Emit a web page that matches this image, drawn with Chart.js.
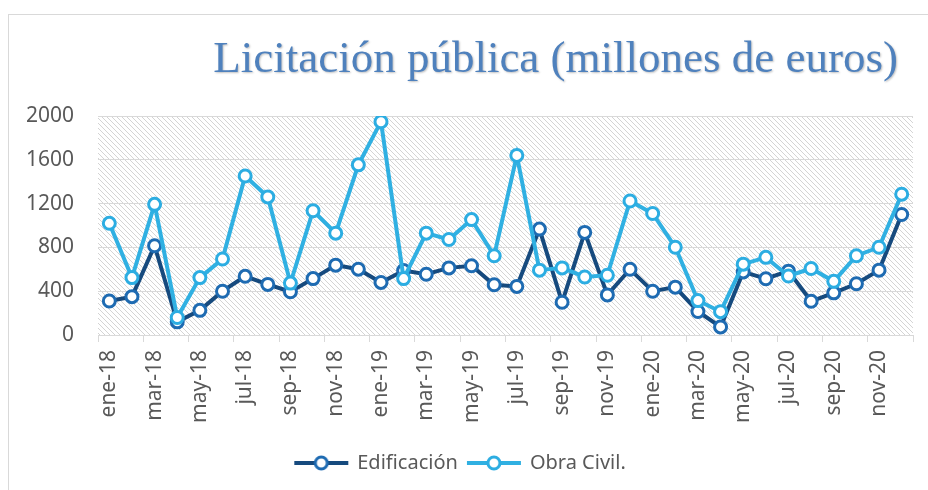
<!DOCTYPE html>
<html>
<head>
<meta charset="utf-8">
<script src="https://cdn.jsdelivr.net/npm/chart.js@4"></script>
<style>
  body { margin: 0; background: #ffffff; overflow: hidden; }
  #frame { position: absolute; left: 8px; top: 14px; width: 1000px; height: 1000px; border: 1px solid #d9d9d9; }
  #wrap { position: absolute; left: 0; top: 0; width: 928px; height: 490px; }
</style>
</head>
<body>
<div id="frame"></div>
<div id="wrap"><canvas id="myChart" width="928" height="490"></canvas></div>
<script>
const TITLE = "Licitación pública (millones de euros)";
const months = ["ene", "feb", "mar", "abr", "may", "jun", "jul", "ago", "sep", "oct", "nov", "dic"];
const years = ["18", "19", "20"];
const yTicks = [0, 400, 800, 1200, 1600, 2000];
const seriesNames = ["Edificación", "Obra Civil."];

// values, ene-18 .. dic-20
const edificacion = [310, 350, 815, 120, 225, 400, 536, 462, 395, 515, 638, 601,
                     480, 588, 555, 613, 632, 459, 444, 967, 299, 937, 366, 600,
                     400, 437, 215, 74, 576, 514, 583, 308, 385, 468, 592, 1100];
const obraCivil = [1020, 524, 1193, 160, 524, 694, 1452, 1261, 474, 1135, 930, 1554,
                   1948, 515, 930, 872, 1054, 724, 1640, 592, 613, 530, 546, 1224,
                   1110, 801, 314, 213, 647, 709, 539, 607, 490, 724, 801, 1286];

const DARK_LINE = "#164a7e";
const DARK_POINT = "#1e6bb2";
const LIGHT_LINE = "#30b0e2";
const LIGHT_POINT = "#2cade2";
const GRID_COLOR = "#d9d9d9";
const TEXT_COLOR = "#595959";
const FONT = "'Noto Sans', sans-serif";

let labels = [];
years.forEach(y => months.forEach(m => labels.push(m + "-" + y)));

//small canvas used as hatch pattern behind the plot
function makeHatch() {
    const c = document.createElement("canvas");
    c.width = 5; c.height = 5;
    const g = c.getContext("2d");
    g.strokeStyle = "rgba(0,0,0,0.17)";
    g.lineWidth = 1;
    g.beginPath();
    g.moveTo(-1, -1); g.lineTo(6, 6);
    g.moveTo(-1, 4); g.lineTo(1, 6);
    g.moveTo(4, -1); g.lineTo(6, 1);
    g.stroke();
    return c;
}

//legend icon: line with a hollow circle in the middle
function makeIcon(lineColor, pointColor) {
    const c = document.createElement("canvas");
    c.width = 56; c.height = 18;
    const g = c.getContext("2d");
    g.strokeStyle = lineColor;
    g.lineWidth = 4;
    g.beginPath();
    g.moveTo(1, 9); g.lineTo(55, 9);
    g.stroke();
    g.beginPath();
    g.arc(28, 9, 6, 0, Math.PI * 2);
    g.fillStyle = "#ffffff";
    g.fill();
    g.lineWidth = 3;
    g.strokeStyle = pointColor;
    g.stroke();
    return c;
}

const hatchBackground = {
    id: "hatchBackground",
    beforeDraw(chart) {
        const { ctx, chartArea: { left, top, width, height } } = chart;
        ctx.save();
        ctx.fillStyle = ctx.createPattern(makeHatch(), "repeat");
        ctx.fillRect(left, top, width, height);
        ctx.restore();
    }
};

const titlePlugin = {
    id: "titlePlugin",
    afterDraw(chart) {
        const ctx = chart.ctx;
        ctx.save();
        ctx.font = "45px 'Liberation Serif', serif";
        ctx.fillStyle = "#4f81bd";
        ctx.textAlign = "right";
        ctx.textBaseline = "alphabetic";
        ctx.shadowColor = "rgba(0,0,0,0.25)";
        ctx.shadowOffsetX = 1;
        ctx.shadowOffsetY = 1;
        ctx.shadowBlur = 2;
        ctx.fillText(TITLE, 898, 72);
        ctx.restore();
    }
};

const icons = [makeIcon(DARK_LINE, DARK_POINT), makeIcon(LIGHT_LINE, LIGHT_POINT)];

new Chart("myChart", {
    type: "line",
    data: {
        labels: labels,
        datasets: [{
            label: seriesNames[0],
            data: edificacion,
            borderColor: DARK_LINE,
            borderWidth: 4,
            pointRadius: 6,
            pointBorderWidth: 3,
            pointBorderColor: DARK_POINT,
            pointBackgroundColor: "#ffffff",
            tension: 0,
            order: 1
        }, {
            label: seriesNames[1],
            data: obraCivil,
            borderColor: LIGHT_LINE,
            borderWidth: 4,
            pointRadius: 6,
            pointBorderWidth: 3,
            pointBorderColor: LIGHT_POINT,
            pointBackgroundColor: "#ffffff",
            tension: 0,
            order: 0
        }]
    },
    options: {
        responsive: false,
        animation: false,
        layout: { padding: { left: 8, right: 15, top: 116, bottom: 7 } },
        scales: {
            x: {
                offset: true,
                afterFit(scale) {
                    scale.height = 108;
                    scale.paddingLeft = 0;
                    scale.paddingRight = 0;
                },
                grid: {
                    offset: true,
                    drawOnChartArea: false,
                    drawTicks: true,
                    tickLength: 7,
                    color: ctx => (ctx.index === undefined || ctx.index % 2 === 0) ? GRID_COLOR : "rgba(0,0,0,0)"
                },
                border: { display: true, color: GRID_COLOR, width: 1 },
                ticks: {
                    autoSkip: false,
                    maxRotation: 90,
                    minRotation: 90,
                    padding: 8,
                    color: TEXT_COLOR,
                    font: { family: FONT, size: 21 },
                    callback: function (value, index) {
                        return index % 2 === 0 ? this.getLabelForValue(value) : "";
                    }
                }
            },
            y: {
                min: yTicks[0],
                max: yTicks[yTicks.length - 1],
                afterFit(scale) {
                    scale.width = 90;
                    scale.paddingTop = 0;
                    scale.paddingBottom = 0;
                },
                afterBuildTicks(scale) { scale.ticks = yTicks.map(v => ({ value: v })); },
                grid: { color: GRID_COLOR, drawTicks: false },
                border: { display: false },
                ticks: {
                    padding: 24,
                    color: TEXT_COLOR,
                    font: { family: FONT, size: 21 },
                    callback: value => String(value)
                }
            }
        },
        plugins: {
            legend: {
                position: "bottom",
                labels: {
                    usePointStyle: true,
                    pointStyleWidth: 52,
                    padding: 10,
                    color: TEXT_COLOR,
                    font: { family: FONT, size: 20 },
                    generateLabels: () => seriesNames.map((name, i) => ({
                        text: name,
                        pointStyle: icons[i],
                        fontColor: TEXT_COLOR,
                        lineWidth: 0,
                        datasetIndex: i
                    }))
                }
            },
            tooltip: { enabled: false },
            title: { display: false }
        }
    },
    plugins: [hatchBackground, titlePlugin]
});
</script>
</body>
</html>
